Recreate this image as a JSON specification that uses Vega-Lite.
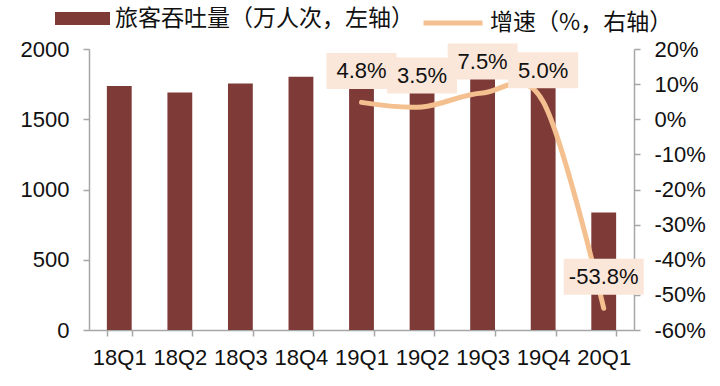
{
  "$schema": "https://vega.github.io/schema/vega-lite/v6.json",
  "autosize": "none",
  "width": 545,
  "height": 281,
  "padding": {"left": 89, "top": 49, "right": 86, "bottom": 56},
  "background": "white",
  "data": {
    "values": [
      {"q": "18Q1", "pax": 1736, "rate": null, "label": null},
      {"q": "18Q2", "pax": 1691, "rate": null, "label": null},
      {"q": "18Q3", "pax": 1755, "rate": null, "label": null},
      {"q": "18Q4", "pax": 1802, "rate": null, "label": null},
      {"q": "19Q1", "pax": 1812, "rate": 4.8, "label": "4.8%"},
      {"q": "19Q2", "pax": 1749, "rate": 3.5, "label": "3.5%"},
      {"q": "19Q3", "pax": 1802, "rate": 7.5, "label": "7.5%"},
      {"q": "19Q4", "pax": 1800, "rate": 5.0, "label": "5.0%"},
      {"q": "20Q1", "pax": 837, "rate": -53.8, "label": "-53.8%"}
    ]
  },
  "encoding": {
    "x": {
      "field": "q",
      "type": "nominal",
      "sort": null,
      "title": null,
      "scale": {"paddingInner": 0.59, "paddingOuter": 0.295},
      "axis": {
        "labelAngle": 0,
        "labelFont": "Liberation Sans",
        "labelFontSize": 22,
        "labelColor": "#111111",
        "labelPadding": 11,
        "tickBand": "extent",
        "tickSize": 6,
        "tickColor": "#a6a6a6",
        "domainColor": "#a6a6a6",
        "domainWidth": 1.5,
        "tickWidth": 1.5
      }
    }
  },
  "layer": [
    {
      "mark": {"type": "bar"},
      "encoding": {
        "y": {
          "field": "pax",
          "type": "quantitative",
          "title": null,
          "scale": {"domain": [0, 2000], "nice": false},
          "axis": {
            "values": [0, 500, 1000, 1500, 2000],
            "format": "d",
            "grid": false,
            "labelFont": "Liberation Sans",
            "labelFontSize": 22,
            "labelColor": "#111111",
            "labelPadding": 14,
            "tickSize": 6,
            "tickColor": "#a6a6a6",
            "domainColor": "#a6a6a6",
            "domainWidth": 1.5,
            "tickWidth": 1.5
          }
        },
        "fill": {
          "datum": "旅客吞吐量（万人次，左轴）",
          "scale": {"range": ["#7e3a37"]},
          "legend": {
            "orient": "none",
            "legendX": -34,
            "legendY": -58,
            "title": null,
            "symbolType": "M-1,-0.24H1V0.24H-1Z",
            "symbolSize": 3025,
            "symbolStrokeWidth": 0,
            "labelFont": "Noto Sans CJK SC",
            "labelFontSize": 23,
            "labelColor": "#111111",
            "labelOffset": 5,
            "labelLimit": 500
          }
        }
      }
    },
    {
      "transform": [{"filter": "isValid(datum.rate)"}],
      "encoding": {
        "y": {
          "field": "rate",
          "type": "quantitative",
          "title": null,
          "scale": {"domain": [-60, 20], "nice": false},
          "axis": {
            "orient": "right",
            "values": [-60, -50, -40, -30, -20, -10, 0, 10, 20],
            "labelExpr": "datum.value + '%'",
            "grid": false,
            "labelFont": "Liberation Sans",
            "labelFontSize": 22,
            "labelColor": "#111111",
            "labelPadding": 14,
            "tickSize": 6,
            "tickColor": "#a6a6a6",
            "domainColor": "#a6a6a6",
            "domainWidth": 1.5,
            "tickWidth": 1.5
          }
        }
      },
      "layer": [
        {
          "mark": {"type": "line", "interpolate": "cardinal", "strokeWidth": 5, "strokeCap": "round"},
          "encoding": {
            "stroke": {
              "datum": "增速（%，右轴）",
              "scale": {"range": ["#f4c08f"]},
              "legend": {
                "orient": "none",
                "legendX": 332,
                "legendY": -58,
                "title": null,
                "symbolType": "stroke",
                "symbolSize": 3481,
                "symbolStrokeWidth": 5,
                "labelFont": "Noto Sans CJK SC",
                "labelFontSize": 23,
                "labelColor": "#111111",
                "labelOffset": 5,
                "labelLimit": 500
              }
            }
          }
        },
        {
          "mark": {"type": "point", "filled": true, "size": 4900, "opacity": 1, "color": "#fbe7da", "strokeWidth": 0},
          "encoding": {
            "shape": {
              "condition": {"test": "datum.rate < -50", "value": "M-1.143,-1.414H1.143V-0.386H-1.143Z"},
              "value": "M-1,-1.414H1V-0.386H-1Z"
            }
          }
        },
        {
          "mark": {"type": "text", "dy": -31, "font": "Liberation Sans", "fontSize": 22, "color": "#111111", "baseline": "middle"},
          "encoding": {
            "text": {"field": "label"}
          }
        }
      ]
    }
  ],
  "resolve": {"scale": {"y": "independent"}},
  "config": {
    "view": {"stroke": null},
    "legend": {"padding": 0}
  }
}
